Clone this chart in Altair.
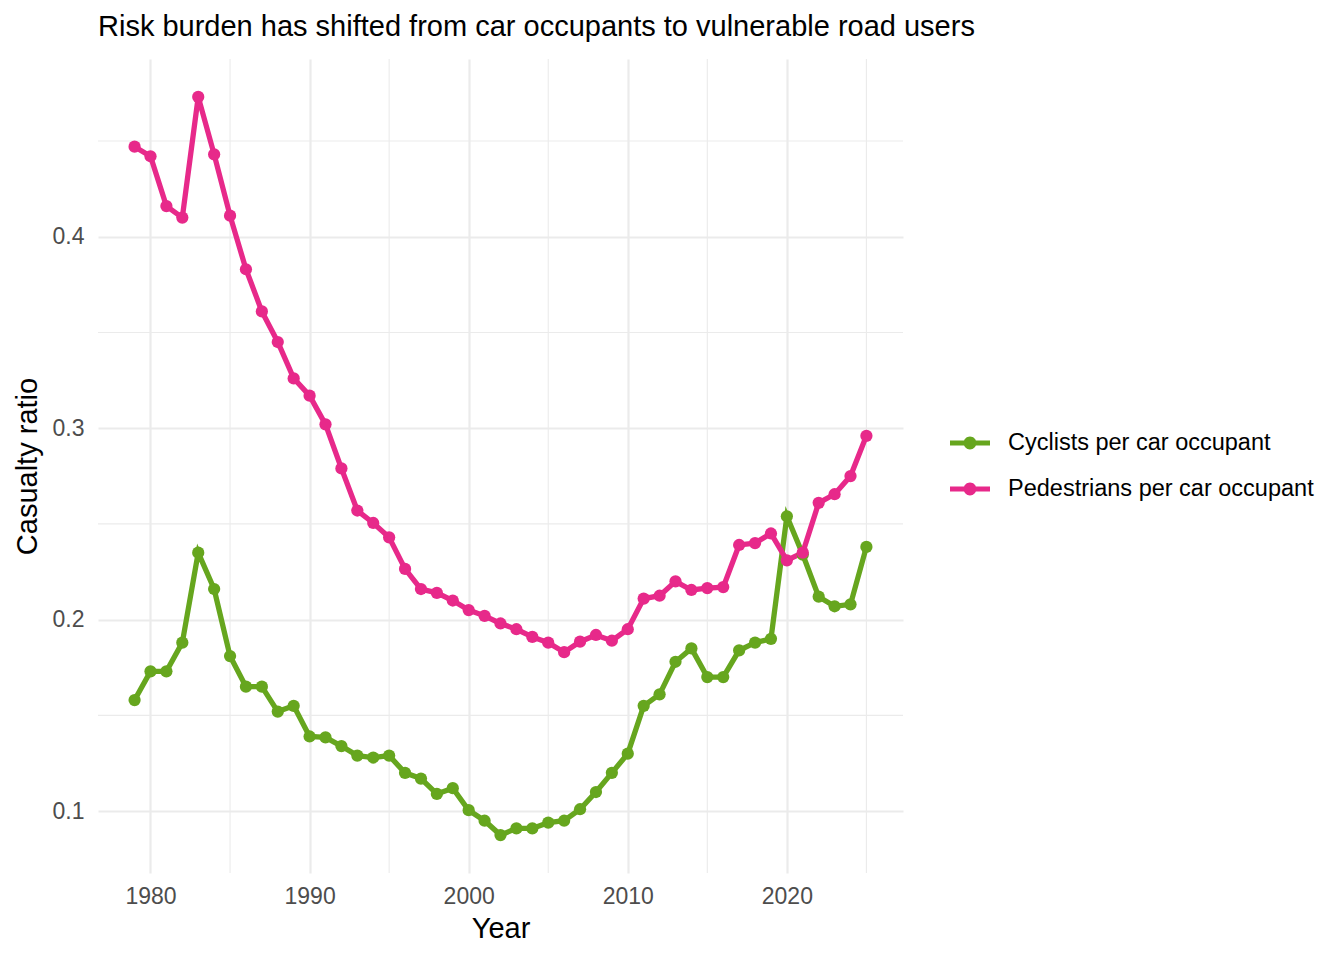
import altair as alt
import pandas as pd

years = list(range(1979, 2026))
cyclists = [0.158, 0.173, 0.173, 0.188, 0.235, 0.216, 0.181, 0.165, 0.165, 0.152,
            0.155, 0.139, 0.1385, 0.134, 0.129, 0.128, 0.129, 0.120, 0.117, 0.109,
            0.112, 0.1005, 0.095, 0.0875, 0.091, 0.091, 0.094, 0.095, 0.101, 0.110,
            0.120, 0.130, 0.155, 0.161, 0.178, 0.185, 0.170, 0.170, 0.184, 0.188,
            0.190, 0.254, 0.234, 0.212, 0.207, 0.208, 0.238]
pedestrians = [0.447, 0.442, 0.416, 0.410, 0.473, 0.443, 0.411, 0.383, 0.361, 0.345,
               0.326, 0.317, 0.302, 0.279, 0.257, 0.2505, 0.243, 0.2265, 0.216, 0.214,
               0.210, 0.205, 0.202, 0.198, 0.195, 0.191, 0.188, 0.183, 0.1885, 0.192,
               0.189, 0.195, 0.211, 0.2125, 0.220, 0.2155, 0.2165, 0.217, 0.239, 0.240,
               0.245, 0.231, 0.235, 0.261, 0.2655, 0.275, 0.296]
series_names = ["Cyclists per car occupant", "Pedestrians per car occupant"]
series_colors = ["#66A61E", "#E7298A"]

x_major = [1980, 1990, 2000, 2010, 2020]
x_minor = [1985, 1995, 2005, 2015, 2025]
y_major = [0.1, 0.2, 0.3, 0.4]
y_minor = [0.15, 0.25, 0.35, 0.45]

rows = []
for name, vals in zip(series_names, [cyclists, pedestrians]):
    for yr, v in zip(years, vals):
        rows.append({"Year": yr, "ratio": v, "series": name})
df = pd.DataFrame(rows)

FONT = "Liberation Sans"
GRID = "#EBEBEB"

xscale = alt.Scale(domain=[1976.7, 2027.3], nice=False, zero=False)
yscale = alt.Scale(domain=[0.0677, 0.4928], nice=False, zero=False)

x_axis = alt.Axis(values=x_major, format="d", title="Year", grid=True, gridColor=GRID,
                  gridWidth=2.2, domain=False, ticks=False, tickSize=0,
                  labelFontSize=23, labelFont=FONT, labelColor="#4D4D4D", labelPadding=12,
                  titleFontSize=29, titleFont=FONT, titleFontWeight="normal",
                  titleColor="#000000", titlePadding=6)
y_axis = alt.Axis(values=y_major, format=".1f", title="Casualty ratio", grid=True,
                  gridColor=GRID, gridWidth=2.2, domain=False, ticks=False, tickSize=0,
                  labelFontSize=23, labelFont=FONT, labelColor="#4D4D4D", labelPadding=14,
                  titleFontSize=29, titleFont=FONT, titleFontWeight="normal",
                  titleColor="#000000", titlePadding=10)

x_enc = alt.X("Year:Q", scale=xscale, axis=x_axis)
y_enc = alt.Y("ratio:Q", scale=yscale, axis=y_axis)

color = alt.Color("series:N",
                  scale=alt.Scale(domain=series_names, range=series_colors),
                  legend=alt.Legend(title=None, orient="none", legendX=852, legendY=364,
                                    symbolType="M-1,-0.13H1V0.13H-1Z M0.32,0A0.32,0.32 0 1,1 -0.32,0A0.32,0.32 0 1,1 0.32,0Z",
                                    symbolSize=1600, symbolStrokeWidth=0, labelFontSize=23.5,
                                    labelFont=FONT, labelColor="#000000", labelOffset=18,
                                    rowPadding=14, padding=0, labelLimit=600))

minor_x = alt.Chart(pd.DataFrame({"Year": x_minor})).mark_rule(color=GRID, strokeWidth=1.1).encode(
    x=x_enc)
minor_y = alt.Chart(pd.DataFrame({"ratio": y_minor})).mark_rule(color=GRID, strokeWidth=1.1).encode(
    y=y_enc)

lines = alt.Chart(df).mark_line(strokeWidth=5.3).encode(
    x=x_enc, y=y_enc,
    color=alt.Color("series:N", scale=alt.Scale(domain=series_names, range=series_colors), legend=None))
points = alt.Chart(df).mark_point(filled=True, size=150, opacity=1).encode(
    x=x_enc, y=y_enc, color=color)

chart = alt.layer(minor_x, minor_y, lines, points).resolve_legend(color="independent").properties(
    width=805, height=814,
    autosize=alt.AutoSizeParams(type="none"),
    padding={"left": 90, "top": 51, "right": 420, "bottom": 70},
    title=alt.TitleParams("Risk burden has shifted from car occupants to vulnerable road users",
                          anchor="start", frame="group", fontSize=29, font=FONT,
                          fontWeight="normal", color="#000000", offset=16),
).configure(background="white").configure_view(stroke=None)

chart.save("out.html", embed_options={"renderer": "svg", "actions": False})
